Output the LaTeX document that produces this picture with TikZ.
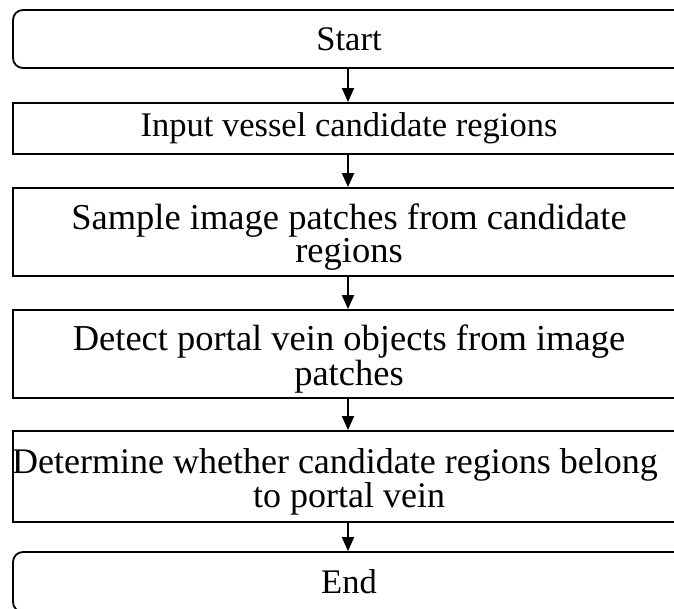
\documentclass[tikz,border=0pt]{standalone}
\usepackage{fontspec}
\setmainfont{Liberation Serif}
\usetikzlibrary{arrows.meta}
\newcommand{\dn}{\rule{0pt}{0.98em}}
\begin{document}
\begin{tikzpicture}[x=1pt,y=-1pt,
  box/.style={draw=black,line width=1.8pt,minimum width=672pt,inner sep=0pt,align=center,
    font=\fontsize{34.5}{33}\selectfont},
  bigbox/.style={box,font=\fontsize{36.5}{31.5}\selectfont},
  term/.style={box,rounded corners=10pt},
  flow/.style={line width=1.8pt,-{Triangle[width=12pt,length=14pt]}}]
\useasboundingbox (0,0) rectangle (674,609);
\clip (0,0) rectangle (674,609);
\node[term,minimum height=58pt] (start) at (349,39) {Start};
\node[box,minimum height=51pt] (n2) at (349,128.5) {Input vessel candidate regions};
\node[bigbox,minimum height=88pt] (n3) at (349,232) {\dn Sample image patches from candidate\\regions};
\node[bigbox,minimum height=88pt] (n4) at (349,354) {\dn Detect portal vein objects from image\\patches};
\node[bigbox,font=\fontsize{36}{31.5}\selectfont,minimum height=91pt] (n5) at (349,476.5)
  {\dn\hspace*{-14pt}\makebox[600pt][c]{Determine whether candidate regions belong}\hspace*{14pt}\\to portal vein};
\node[term,minimum height=60pt] (end) at (349,582) {End};
\draw[flow] (start.south -| 348,0) -- (n2.north -| 348,0);
\draw[flow] (n2.south -| 348,0) -- (n3.north -| 348,0);
\draw[flow] (n3.south -| 348,0) -- (n4.north -| 348,0);
\draw[flow] (n4.south -| 348,0) -- (n5.north -| 348,0);
\draw[flow] (n5.south -| 348,0) -- (end.north -| 348,0);
\end{tikzpicture}
\end{document}
